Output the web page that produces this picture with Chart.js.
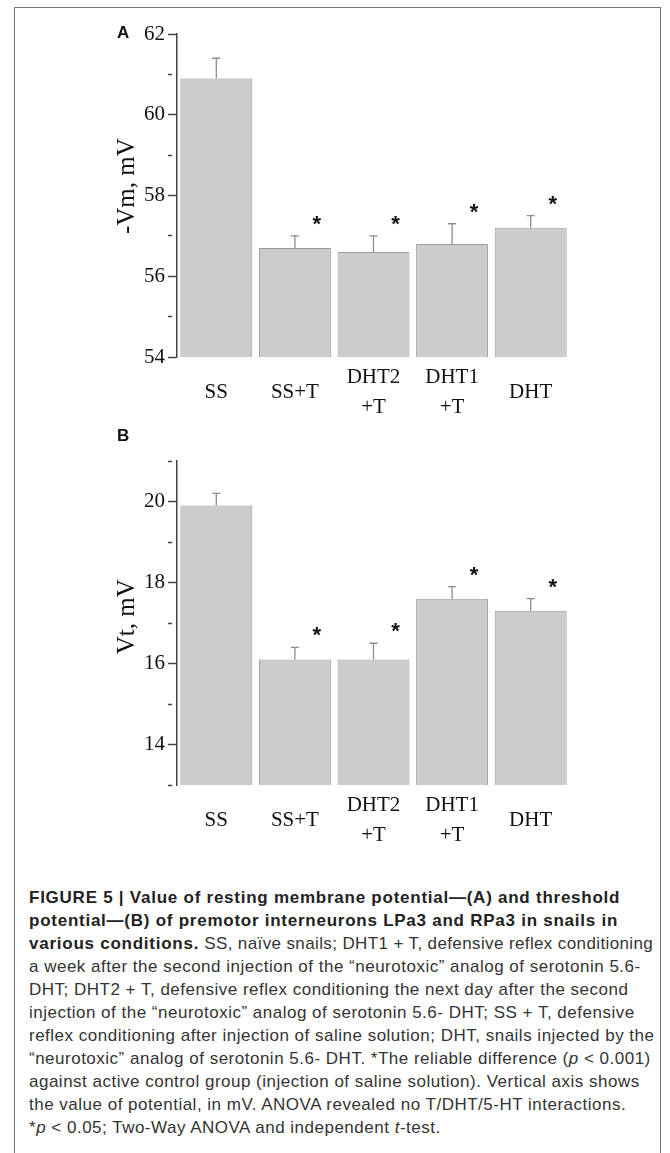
<!DOCTYPE html>
<html>
<head>
<meta charset="utf-8">
<script src="https://cdn.jsdelivr.net/npm/chart.js@4.4.1/dist/chart.umd.min.js"></script>
<style>
  html, body { margin: 0; padding: 0; background: #fff; }
  body { width: 670px; height: 1153px; position: relative; overflow: hidden; }
  .frame { position: absolute; left: 14px; top: 7px; width: 645px; height: 1170px; border: 1px solid #777; }
  .panel { position: absolute; left: 0; width: 670px; height: 430px; }
  #panelA { top: 0; }
  #panelB { top: 430px; }
  .tag { position: absolute; font: bold 17px "Liberation Sans", Arial, sans-serif; color: #111; }
  .caption { position: absolute; left: 29px; top: 886px; font: 17px/23px "Liberation Sans", Arial, sans-serif; letter-spacing: 0.5px; color: #333; white-space: nowrap; }
  .caption b { color: #222; letter-spacing: 0.75px; }
  .caption .tight { letter-spacing: 0.38px; }
</style>
</head>
<body>
<div class="frame"></div>
<div class="panel" id="panelA"><canvas id="chartA" width="670" height="430"></canvas></div>
<div class="panel" id="panelB"><canvas id="chartB" width="670" height="430"></canvas></div>
<div class="tag" style="left:117px; top:23px;">A</div>
<div class="tag" style="left:117px; top:426px;">B</div>
<div class="caption">
<b>FIGURE 5 | Value of resting membrane potential—(A) and threshold</b><br>
<b>potential—(B) of premotor interneurons LPa3 and RPa3 in snails in</b><br>
<b>various conditions.</b><span class="tight"> SS, naïve snails; DHT1 + T, defensive reflex conditioning</span><br>
a week after the second injection of the “neurotoxic” analog of serotonin 5.6-<br>
DHT; DHT2 + T, defensive reflex conditioning the next day after the second<br>
injection of the “neurotoxic” analog of serotonin 5.6- DHT; SS + T, defensive<br>
reflex conditioning after injection of saline solution; DHT, snails injected by the<br>
“neurotoxic” analog of serotonin 5.6- DHT. *The reliable difference (<i>p</i> &lt; 0.001)<br>
against active control group (injection of saline solution). Vertical axis shows<br>
the value of potential, in mV. ANOVA revealed no T/DHT/5-HT interactions.<br>
*<i>p</i> &lt; 0.05; Two-Way ANOVA and independent <i>t</i>-test.
</div>
<script>
// groups (multi-line tick labels)
const groups = [['SS'], ['SS+T'], ['DHT2', '+T'], ['DHT1', '+T'], ['DHT']];

// panel A: resting membrane potential, -Vm (mV)
const restingMeans = [60.9, 56.7, 56.6, 56.8, 57.2];
const restingErrors = [0.5, 0.3, 0.4, 0.5, 0.3];

// panel B: threshold potential, Vt (mV)
const thresholdMeans = [19.9, 16.1, 16.1, 17.6, 17.3];
const thresholdErrors = [0.3, 0.3, 0.4, 0.3, 0.3];

// significance marks
const starred = [false, true, true, true, true];

const serif = '"Liberation Serif", "Times New Roman", serif';

// draws the upper error whisker and the asterisk for each bar
const errorBars = {
    id: 'errorBars',
    afterDatasetsDraw(chart, args, opts) {
        const ctx = chart.ctx;
        const yScale = chart.scales.y;
        const values = chart.data.datasets[0].data;
        ctx.save();
        chart.getDatasetMeta(0).data.forEach((bar, i) => {
            const base = yScale.getPixelForValue(values[i]);
            const top = yScale.getPixelForValue(values[i] + opts.errors[i]);
            ctx.strokeStyle = '#8c8c8c';
            ctx.lineWidth = 1.3;
            ctx.beginPath();
            ctx.moveTo(bar.x, base);
            ctx.lineTo(bar.x, top);
            ctx.moveTo(bar.x - 4, top);
            ctx.lineTo(bar.x + 4, top);
            ctx.stroke();
            if (opts.stars[i]) {
                ctx.fillStyle = '#111';
                ctx.font = 'bold 22px "Liberation Sans", Arial, sans-serif';
                ctx.textAlign = 'center';
                ctx.textBaseline = 'alphabetic';
                ctx.fillText('*', bar.x + 22, top - 5);
            }
        });
        ctx.restore();
    }
};

function makeChart(id, means, errors, yMin, yMax, yTitle, padTop, xHeight) {
    return new Chart(document.getElementById(id), {
        type: 'bar',
        data: {
            labels: groups,
            datasets: [{
                data: means,
                backgroundColor: '#cccccc',
                borderColor: '#9a9a9a',
                borderWidth: 1,
                categoryPercentage: 1,
                barPercentage: 0.915
            }]
        },
        options: {
            responsive: false,
            animation: false,
            devicePixelRatio: 1,
            layout: { padding: { top: padTop, right: 100, bottom: 0, left: 0 } },
            plugins: {
                legend: { display: false },
                tooltip: { enabled: false },
                errorBars: { errors: errors, stars: starred }
            },
            scales: {
                x: {
                    grid: { display: false },
                    border: { display: false },
                    ticks: {
                        color: '#111',
                        font: { family: serif, size: 21, lineHeight: 1.43 },
                        padding: 12,
                        crossAlign: 'center',
                        maxRotation: 0,
                        autoSkip: false
                    },
                    afterFit(scale) { scale.height = xHeight; }
                },
                y: {
                    min: yMin,
                    max: yMax,
                    border: { color: '#444', width: 1.5 },
                    grid: {
                        drawOnChartArea: false,
                        color: '#444',
                        tickLength: 9,
                        tickWidth: 1.5,
                        tickBorderDash: (c) => (c.tick && c.tick.value % 2 !== 0) ? [4, 20] : []
                    },
                    ticks: {
                        stepSize: 1,
                        padding: 3,
                        color: '#111',
                        font: { family: serif, size: 21 },
                        callback: (v) => (v % 2 !== 0 ? '' : v)
                    },
                    title: {
                        display: true,
                        text: yTitle,
                        color: '#111',
                        font: { family: serif, size: 25 },
                        padding: { top: 112, bottom: 0 }
                    },
                    afterFit(scale) { scale.width = 177; }
                }
            }
        },
        plugins: [errorBars]
    });
}

makeChart('chartA', restingMeans, restingErrors, 54, 62, '\u00a0\u00a0\u00a0-Vm, mV', 34, 73);
makeChart('chartB', thresholdMeans, thresholdErrors, 13, 21, '\u00a0\u00a0Vt, mV', 31, 75);
</script>
</body>
</html>
